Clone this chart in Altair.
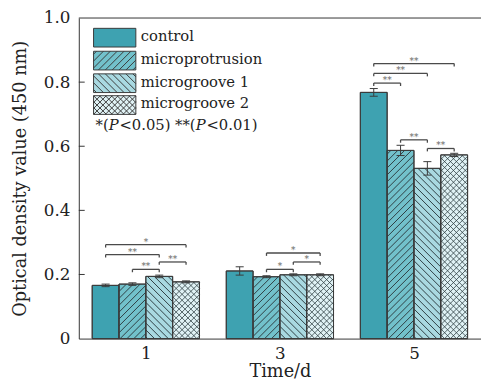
import altair as alt
import numpy as np
import pandas as pd

# ---------------- data ----------------
DAYS = [1, 3, 5]
SERIES = ["control", "microprotrusion", "microgroove 1", "microgroove 2"]
MEAN_CONTROL = [0.166, 0.211, 0.768]
MEAN_MICROPROTRUSION = [0.170, 0.193, 0.587]
MEAN_MICROGROOVE1 = [0.194, 0.199, 0.531]
MEAN_MICROGROOVE2 = [0.177, 0.199, 0.573]
ERR_CONTROL = [0.004, 0.013, 0.012]
ERR_MICROPROTRUSION = [0.004, 0.003, 0.016]
ERR_MICROGROOVE1 = [0.004, 0.003, 0.021]
ERR_MICROGROOVE2 = [0.003, 0.003, 0.005]

# significance brackets: day, from-bar, to-bar, level, label
SIG_DAY = [1, 1, 1, 1, 3, 3, 3, 5, 5, 5, 5, 5]
SIG_FROM = [0, 0, 2, 1, 1, 2, 1, 0, 0, 0, 1, 2]
SIG_TO = [3, 2, 3, 2, 3, 3, 2, 3, 2, 1, 2, 3]
SIG_LEVEL = [0.293, 0.262, 0.239, 0.216, 0.267, 0.239, 0.216,
             0.858, 0.827, 0.797, 0.620, 0.593]
SIG_LABEL = ["*", "**", "**", "**", "*", "*", "*", "**", "**", "**", "**", "**"]

Y_TICKS = [0, 0.2, 0.4, 0.6, 0.8, 1.0]
X_TICKS = [1, 3, 5]
Y_TITLE = "Optical density value (450 nm)"
X_TITLE = "Time/d"
FOOT_PARTS = ["*(", "P", "<0.05) **(", "P", "<0.01)"]

# ---------------- style ----------------
W, H = 409, 326
XDOM = [0, 6]
PXD = W / (XDOM[1] - XDOM[0])
PXV = H / 1.0
COLORS = ["#3ea2b1", "#72c1cb", "#a9d9e1", "#e0f2f5"]
EDGE = "#3a3a3a"
HATCH = "#2e3e42"
FONT = "DejaVu Serif"
BAR_W = 0.4

means = [MEAN_CONTROL, MEAN_MICROPROTRUSION, MEAN_MICROGROOVE1, MEAN_MICROGROOVE2]
errs = [ERR_CONTROL, ERR_MICROPROTRUSION, ERR_MICROGROOVE1, ERR_MICROGROOVE2]

rows = []
for i, s in enumerate(SERIES):
    for j, d in enumerate(DAYS):
        x0 = d - 2 * BAR_W + BAR_W * i
        rows.append(dict(series=s, idx=i, day=d, x0=x0, x1=x0 + BAR_W,
                         xc=x0 + BAR_W / 2, cl=x0 + BAR_W / 2 - 0.06,
                         cr=x0 + BAR_W / 2 + 0.06, base=0.0,
                         mean=means[i][j], lo=means[i][j] - errs[i][j],
                         hi=means[i][j] + errs[i][j]))
bars = pd.DataFrame(rows)


# hatch segments clipped to each bar (computed in pixel space)
def hatch_segments(a, b, top, kind, s):
    segs = []
    if kind == "/":
        for k in range(int(np.floor((a - top) / s)), int(np.ceil(b / s)) + 1):
            c = k * s
            lo, hi = max(a, c), min(b, c + top)
            if hi - lo > 0.3:
                segs.append((lo, lo - c, hi, hi - c))
    else:
        for k in range(int(np.floor(a / s)), int(np.ceil((b + top) / s)) + 1):
            c = k * s
            lo, hi = max(a, c - top), min(b, c)
            if hi - lo > 0.3:
                segs.append((lo, c - lo, hi, c - hi))
    return segs


HATCH_KIND = {1: [("/", 7.0)], 2: [("\\", 7.0)], 3: [("/", 6.0), ("\\", 6.0)]}
hrows = []
for _, r in bars.iterrows():
    for kind, sp in HATCH_KIND.get(r["idx"], []):
        for (xa, ua, xb, ub) in hatch_segments(r["x0"] * PXD, r["x1"] * PXD,
                                               r["mean"] * PXV, kind, sp):
            hrows.append(dict(hx=xa / PXD, hy=ua / PXV, hx2=xb / PXD,
                              hy2=ub / PXV, w=0.8 if r["idx"] == 3 else 1.0))
hatch = pd.DataFrame(hrows)

sig = pd.DataFrame(dict(day=SIG_DAY, a=SIG_FROM, b=SIG_TO, lev=SIG_LEVEL,
                        lab=SIG_LABEL))
sig["xa"] = sig["day"] - 1.5 * BAR_W + BAR_W * sig["a"]
sig["xb"] = sig["day"] - 1.5 * BAR_W + BAR_W * sig["b"]
sig["xm"] = (sig["xa"] + sig["xb"]) / 2
sig["tip"] = sig["lev"] - 0.009
tips = pd.concat([sig[["xa", "lev", "tip"]].rename(columns={"xa": "tx"}),
                  sig[["xb", "lev", "tip"]].rename(columns={"xb": "tx"})])

# ---------------- encodings ----------------
XSC = alt.Scale(domain=XDOM, nice=False, zero=False)
YSC = alt.Scale(domain=[0, 1], nice=False)
XAX = alt.Axis(values=X_TICKS, format="d", ticks=False, tickSize=0,
               labelPadding=7, labelFontSize=17, title=X_TITLE,
               titleFontSize=18, titleFontWeight="normal", titlePadding=2,
               grid=False, domainColor="#333")
YAX = alt.Axis(values=Y_TICKS,
               labelExpr="datum.value == 0 ? '0' : format(datum.value, '.1f')",
               ticks=False, tickSize=0, labelPadding=9, labelFontSize=17,
               title=Y_TITLE, titleFontSize=18, titleFontWeight="normal",
               titlePadding=14, grid=False, domainColor="#333")


def X(f):
    return alt.X(f + ":Q", scale=XSC, axis=XAX)


def Y(f):
    return alt.Y(f + ":Q", scale=YSC, axis=YAX)


color = alt.Color("series:N", scale=alt.Scale(domain=SERIES, range=COLORS),
                  legend=None)

bar_layer = alt.Chart(bars).mark_rect(stroke=EDGE, strokeWidth=1).encode(
    x=X("x0"), x2="x1", y=Y("base"), y2="mean", color=color)
hatch_layer = alt.Chart(hatch).mark_rule(color=HATCH).encode(
    x=X("hx"), x2="hx2", y=Y("hy"), y2="hy2",
    strokeWidth=alt.StrokeWidth("w:Q", scale=None))
outline_layer = alt.Chart(bars).mark_rect(fillOpacity=0, stroke=EDGE,
                                          strokeWidth=1).encode(
    x=X("x0"), x2="x1", y=Y("base"), y2="mean")
err_v = alt.Chart(bars).mark_rule(color=EDGE, strokeWidth=1).encode(
    x=X("xc"), y=Y("lo"), y2="hi")
err_top = alt.Chart(bars).mark_rule(color=EDGE, strokeWidth=1).encode(
    x=X("cl"), x2="cr", y=Y("hi"))
err_bot = alt.Chart(bars).mark_rule(color=EDGE, strokeWidth=1).encode(
    x=X("cl"), x2="cr", y=Y("lo"))

br_h = alt.Chart(sig).mark_rule(color="#4a4a4a", strokeWidth=1.3).encode(
    x=X("xa"), x2="xb", y=Y("lev"))
br_t = alt.Chart(tips).mark_rule(color="#4a4a4a", strokeWidth=1.3).encode(
    x=X("tx"), y=Y("tip"), y2="lev")
br_txt = alt.Chart(sig).mark_text(font=FONT, fontSize=9, color="#666",
                                  baseline="alphabetic", dy=0).encode(
    x=X("xm"), y=Y("lev"), text="lab:N")

frame_top = alt.Chart(pd.DataFrame({"f": [Y_TICKS[-1]]})).mark_rule(
    color="#333", strokeWidth=1).encode(y=Y("f"), x=alt.value(0), x2=alt.value(W))
in_ticks = alt.Chart(pd.DataFrame({"t": Y_TICKS[1:-1]})).mark_rule(
    color="#333", strokeWidth=1).encode(y=Y("t"), x=alt.value(0), x2=alt.value(6))


# ---------------- legend (drawn inside the plot) ----------------
def swatch_path(kind_list, r=21.5, half_h=9.5):
    hw, hh = 1.0, half_h / r
    parts = [f"M{-hw},{-hh:.4f}L{hw},{-hh:.4f}L{hw},{hh:.4f}L{-hw},{hh:.4f}Z"]
    for kind, sp in kind_list:
        s = sp / r
        for k in range(int(np.floor((-hw - hh) / s)) - 1, int(np.ceil((hw + hh) / s)) + 2):
            c = k * s
            lo, hi = max(-hw, c - hh), min(hw, c + hh)
            if hi - lo < 0.02:
                continue
            if kind == "/":
                ya, yb = c - lo, c - hi
            else:
                ya, yb = lo - c, hi - c
            parts.append(f"M{lo:.4f},{ya:.4f}L{hi:.4f},{yb:.4f}")
    return " ".join(parts)


LEG_X, LEG_TX = 36.5, 63
LEG_Y = [20, 43.3, 66.3, 88.5]
legend_layers = []
for i, s in enumerate(SERIES):
    path = swatch_path(HATCH_KIND.get(i, []))
    legend_layers.append(
        alt.Chart(pd.DataFrame({"s": [s]})).mark_point(
            shape=path, size=43 * 43, filled=True, fill=COLORS[i], stroke=EDGE,
            strokeWidth=1, opacity=1).encode(x=alt.value(LEG_X), y=alt.value(LEG_Y[i])))
    legend_layers.append(
        alt.Chart(pd.DataFrame({"s": [s]})).mark_text(
            font=FONT, fontSize=15, align="left", baseline="alphabetic",
            color="#222").encode(x=alt.value(LEG_TX), y=alt.value(LEG_Y[i] + 3.5),
                                 text="s:N"))

FOOT_X = [17, 30.35, 41.35, 118.8, 129.8]
for k, part in enumerate(FOOT_PARTS):
    legend_layers.append(
        alt.Chart(pd.DataFrame({"s": [part]})).mark_text(
            font=FONT, fontSize=15, align="left", baseline="alphabetic",
            color="#222", fontStyle="italic" if part == "P" else "normal").encode(
            x=alt.value(FOOT_X[k]), y=alt.value(113.5), text="s:N"))

chart = alt.layer(
    bar_layer, hatch_layer, outline_layer, err_v, err_top, err_bot,
    br_h, br_t, br_txt, frame_top, in_ticks, *legend_layers
).properties(
    width=W, height=H,
    autosize=alt.AutoSizeParams(type="none"),
    padding={"left": 72, "top": 7, "right": 0, "bottom": 44},
).configure(font=FONT).configure_view(stroke=None).configure_axis(
    labelColor="#222", titleColor="#222", labelFont=FONT, titleFont=FONT)

chart.save("out.html", embed_options={"renderer": "svg", "actions": False})
